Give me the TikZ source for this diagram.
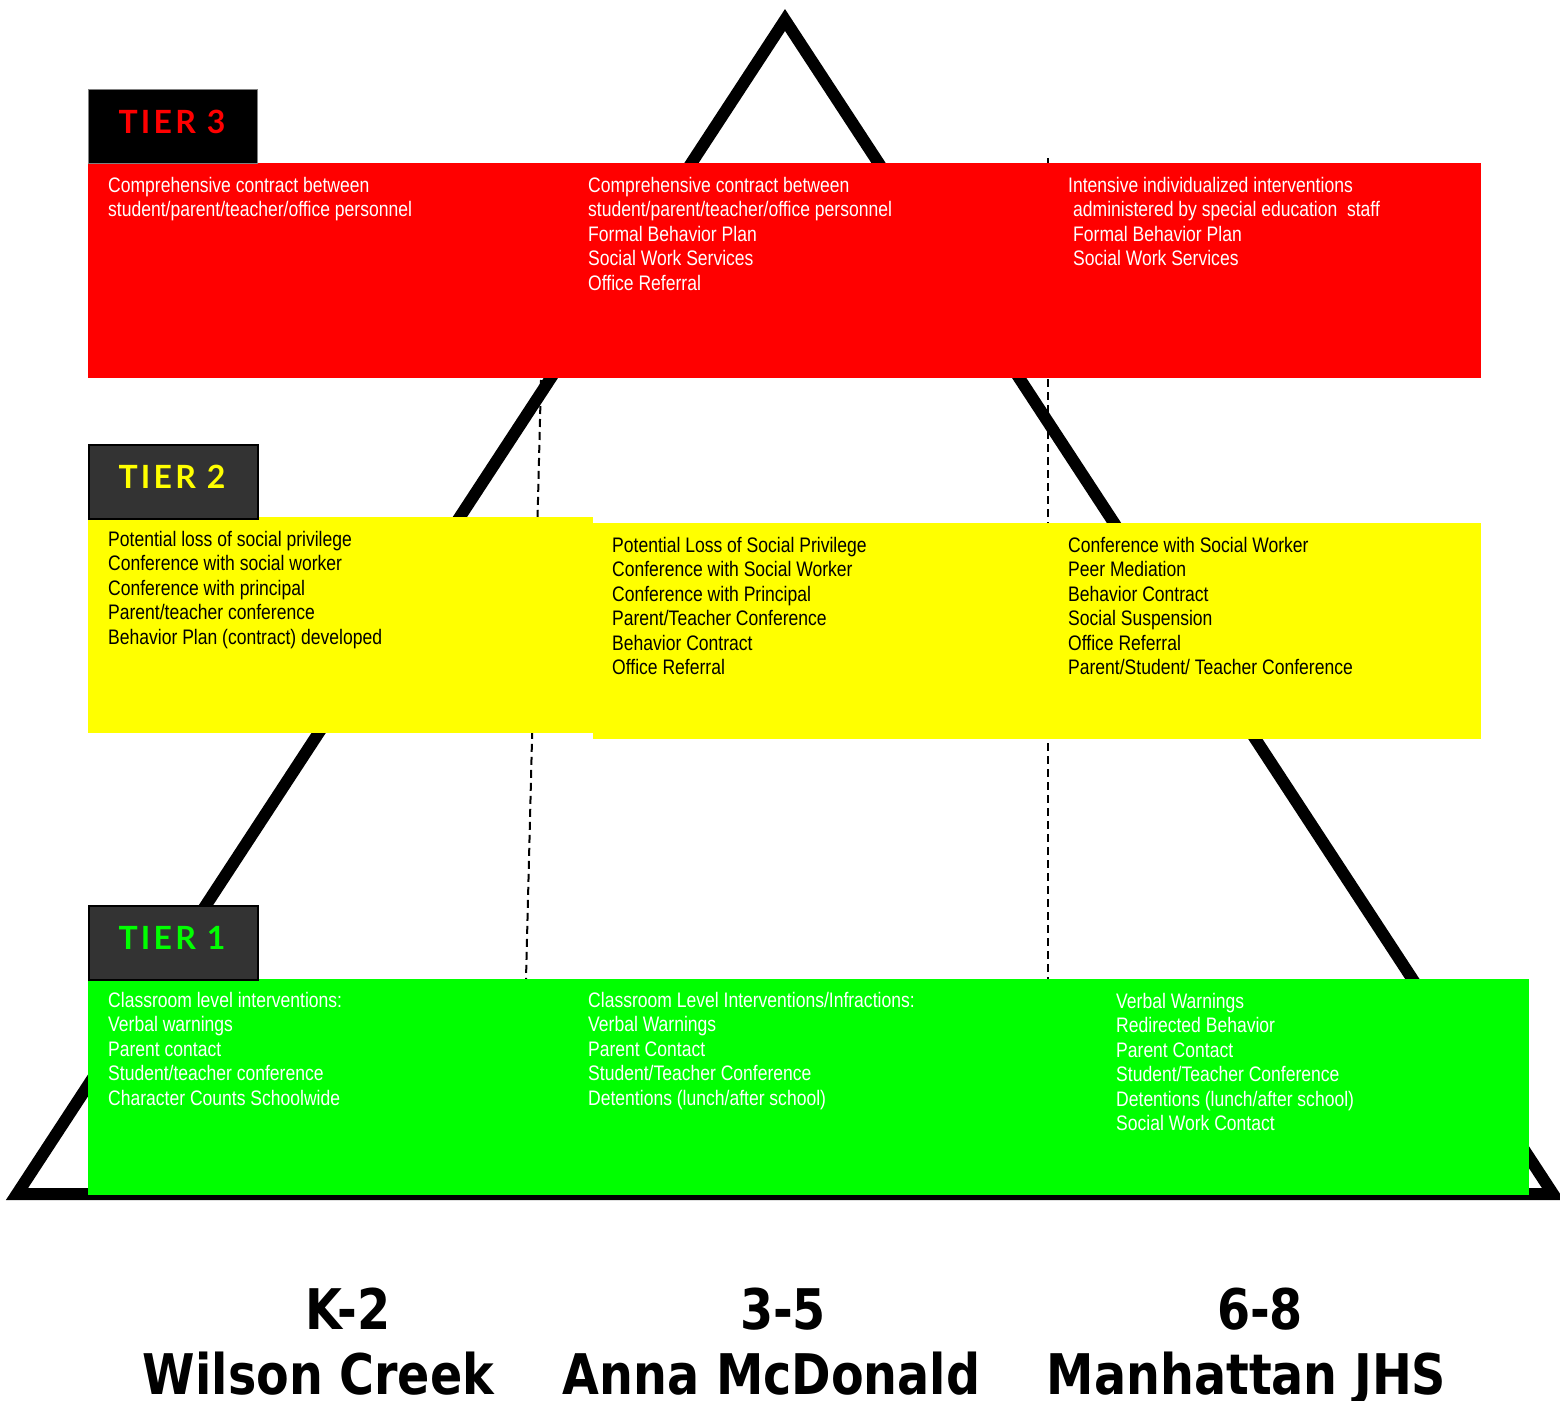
\documentclass[tikz,border=0pt]{standalone}
\usepackage{fontspec}
\setmainfont[FakeStretch=0.835]{Liberation Sans}
\newfontfamily\tierfont[LetterSpace=10]{Lato}
\newfontfamily\gradefont[FakeStretch=0.85]{DejaVu Sans}
\definecolor{tred}{HTML}{FF0000}
\definecolor{tyel}{HTML}{FFFF00}
\definecolor{tgrn}{HTML}{00FF00}
\definecolor{tdark}{HTML}{333333}
\begin{document}
\begin{tikzpicture}[x=1pt,y=-1pt,
  txt/.style={anchor=north west, inner sep=0pt, align=left, font=\fontsize{21}{24.5}\selectfont},
  tierbox/.style={anchor=north west, inner sep=0pt, minimum width=169pt, minimum height=74pt, line width=1.5pt},
  tierlbl/.style={anchor=base, inner sep=0pt, font=\tierfont\bfseries\fontsize{32}{32}\selectfont},
  grade/.style={anchor=base, inner sep=0pt, font=\gradefont\bfseries\fontsize{56}{56}\selectfont},
  divider/.style={line width=2pt, dash pattern=on 8pt off 5pt}]
\useasboundingbox (0,0) rectangle (1560,1400);
% pyramid
\draw[line width=12pt, miter limit=10] (785,20) -- (17,1194) -- (1553,1194) -- cycle;
% dividers
\coordinate (d1t) at (541,380);
\coordinate (d1b) at (526,979);
\coordinate (d2t) at (1048,158);
\coordinate (d2b) at (1048,979);
\draw[divider] (d1t) -- (d1b);
\draw[divider] (d2t) -- (d2b);
% bands
\fill[tred] (88,163) rectangle (1481,378);
\fill[tyel] (88,517) rectangle (593,733);
\fill[tyel] (593,523) rectangle (1481,739);
\fill[tgrn] (88,979) rectangle (1529,1195);
% tier boxes
\node[tierbox, fill=black, draw=gray, line width=1pt] (b3) at (88,89) {};
\node[tierlbl, text=tred] (l3) at (172,133) {TIER 3};
\node[tierbox, fill=tdark, draw=black] (b2) at (88,444) {};
\node[tierlbl, text=tyel] (l2) at (172,488) {TIER 2};
\node[tierbox, fill=tdark, draw=black] (b1) at (88,905) {};
\node[tierlbl, text=tgrn] (l1) at (172,949) {TIER 1};
% tier 3 texts
\node[txt, text=white] (t3a) at (108,174) {\rule{0pt}{18pt}Comprehensive contract between\\student/parent/teacher/office personnel};
\node[txt, text=white] (t3b) at (588,174) {\rule{0pt}{18pt}Comprehensive contract between\\student/parent/teacher/office personnel\\Formal Behavior Plan\\Social Work Services\\Office Referral};
\node[txt, text=white] (t3c) at (1068,174) {\rule{0pt}{18pt}Intensive individualized interventions\\\hspace*{5pt}administered by special education\ \ staff\\\hspace*{5pt}Formal Behavior Plan\\\hspace*{5pt}Social Work Services};
% tier 2 texts
\node[txt, text=black] (t2a) at (108,528) {\rule{0pt}{18pt}Potential loss of social privilege\\Conference with social worker\\Conference with principal\\Parent/teacher conference\\Behavior Plan (contract) developed};
\node[txt, text=black] (t2b) at (612,534) {\rule{0pt}{18pt}Potential Loss of Social Privilege\\Conference with Social Worker\\Conference with Principal\\Parent/Teacher Conference\\Behavior Contract\\Office Referral};
\node[txt, text=black] (t2c) at (1068,534) {\rule{0pt}{18pt}Conference with Social Worker\\Peer Mediation\\Behavior Contract\\Social Suspension\\Office Referral\\Parent/Student/ Teacher Conference};
% tier 1 texts
\node[txt, text=white] (t1a) at (108,989) {\rule{0pt}{18pt}Classroom level interventions:\\Verbal warnings\\Parent contact\\Student/teacher conference\\Character Counts Schoolwide};
\node[txt, text=white] (t1b) at (588,989) {\rule{0pt}{18pt}Classroom Level Interventions/Infractions:\\Verbal Warnings\\Parent Contact\\Student/Teacher Conference\\Detentions (lunch/after school)};
\node[txt, text=white] (t1c) at (1116,990) {\rule{0pt}{18pt}Verbal Warnings\\Redirected Behavior\\Parent Contact\\Student/Teacher Conference\\Detentions (lunch/after school)\\Social Work Contact};
% grade labels
\node[grade] (g1) at (348,1329) {K-2};
\node[grade] (s1) at (318.5,1394) {Wilson Creek};
\node[grade] (g2) at (783,1329) {3-5};
\node[grade] (s2) at (771.5,1394) {Anna McDonald};
\node[grade] (g3) at (1260,1329) {6-8};
\node[grade] (s3) at (1246.5,1394) {Manhattan JHS};
\end{tikzpicture}
\end{document}
